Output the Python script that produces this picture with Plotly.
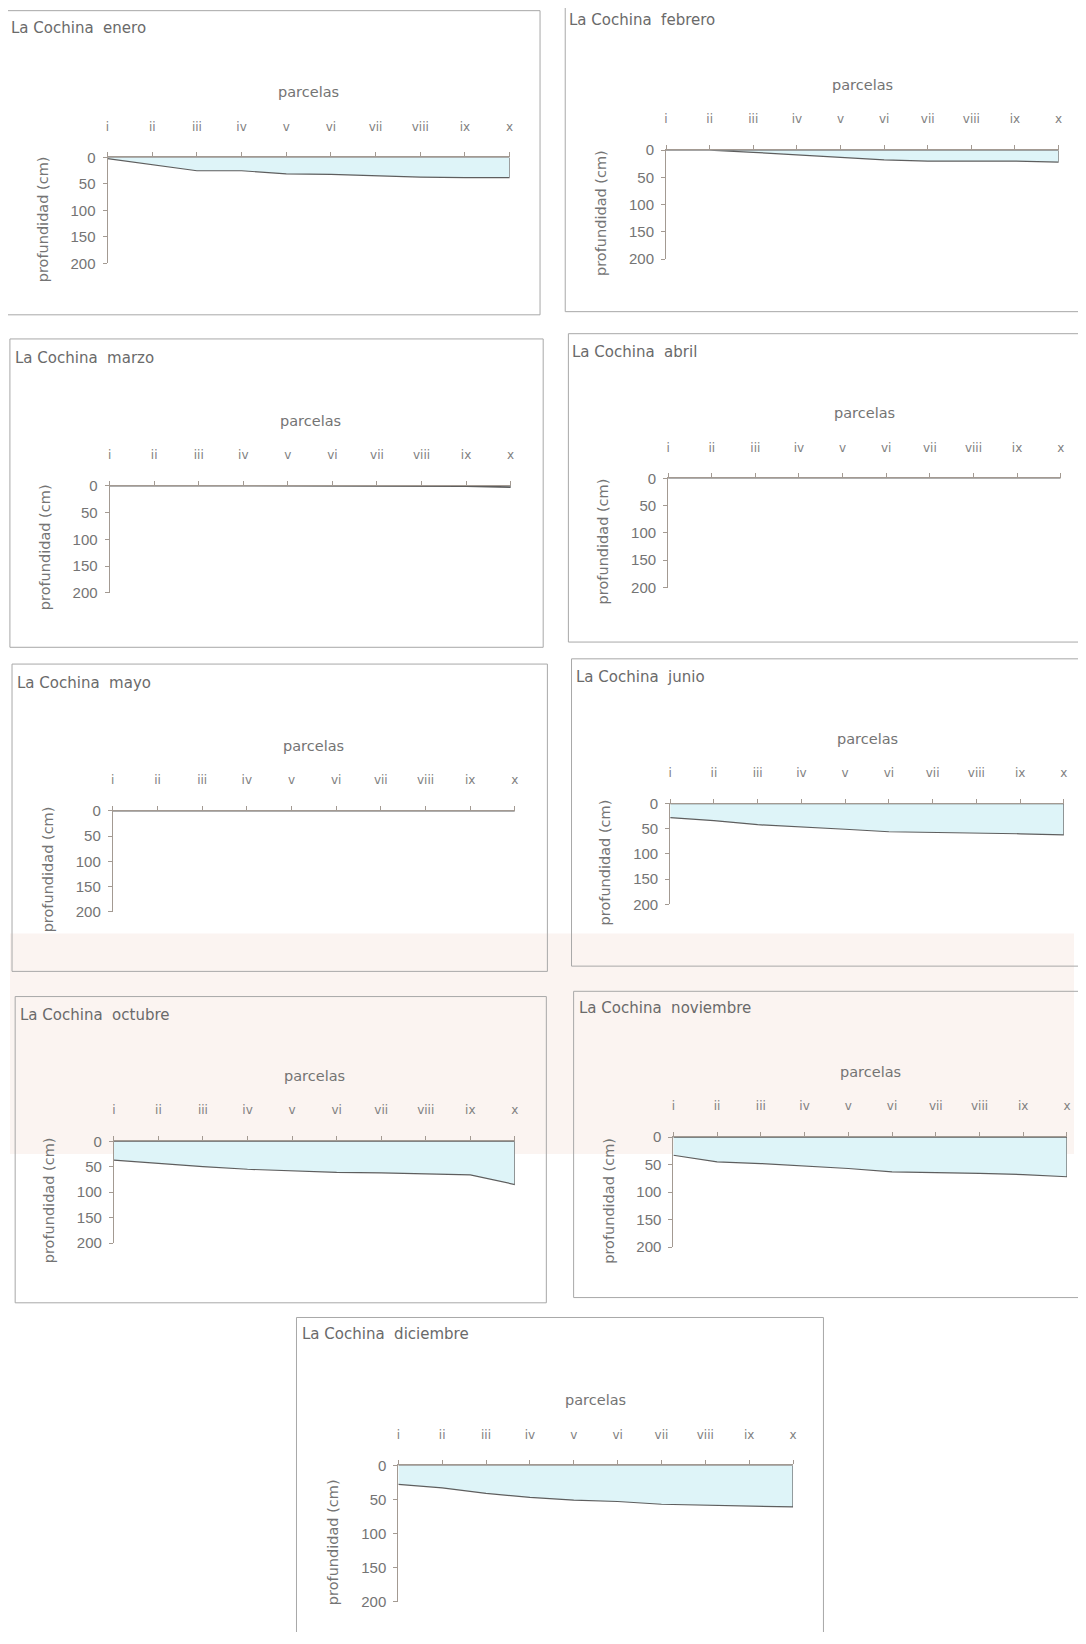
import plotly.graph_objects as go

# ---------------- data ----------------
parcelas = ["i", "ii", "iii", "iv", "v", "vi", "vii", "viii", "ix", "x"]
profundidad_ticks = [0, 50, 100, 150, 200]

meses = ["enero", "febrero", "marzo", "abril", "mayo", "junio",
         "octubre", "noviembre", "diciembre"]

enero = [2, 14, 25, 25, 31, 32, 35, 37, 38, 38]
febrero = [0, 0, 4, 9, 14, 18, 20, 20, 20, 22]
marzo = [0, 0, 0, 0, 0, 0, 0, 0, 1, 3]
abril = [0, 0, 0, 0, 0, 0, 0, 0, 0, 0]
mayo = [0, 0, 0, 0, 0, 0, 0, 0, 0, 0]
junio = [28, 34, 42, 46, 51, 56, 57, 59, 60, 62]
octubre = [37, 44, 50, 55, 58, 61, 62, 64, 66, 85]
noviembre = [33, 45, 48, 52, 57, 63, 64, 66, 68, 72]
diciembre = [28, 33, 41, 47, 51, 53, 57, 58, 59, 61]

series = [enero, febrero, marzo, abril, mayo, junio, octubre, noviembre, diciembre]

# ---------------- layout geometry ----------------
PAGE_W, PAGE_H = 1086, 1644
OFF = 8                      # default body margin of the html page
FW, FH = PAGE_W - 2 * OFF, PAGE_H - 2 * OFF - 4
S = 1086 / 1036.0
panels = [
    dict(box=(8, 10, 516, 300), ax=(104, 487, 150, 251), title=(10, 27)),
    dict(box=(540, 4, 1040, 297), ax=(636, 1010, 143, 247), title=(542, 19)),
    dict(box=(11, 323, 519, 617), ax=(106, 488, 463, 565), title=(14, 341)),
    dict(box=(543, 318, 1040, 612), ax=(638, 1012, 456, 560), title=(545, 335)),
    dict(box=(13, 633, 523, 926), ax=(109, 492, 773, 869), title=(16, 651)),
    dict(box=(546, 628, 1040, 921), ax=(640, 1015, 766, 862), title=(548, 645)),
    dict(box=(16, 950, 522, 1242), ax=(110, 492, 1088, 1185), title=(19, 968)),
    dict(box=(548, 945, 1040, 1237), ax=(643, 1018, 1084, 1189), title=(551, 961)),
    dict(box=(284, 1256, 786, 1600), ax=(381, 757, 1397, 1527), title=(287, 1272)),
]

# empirical correction between page position and the photographed picture
CX_A, CX_B = 0.993, 3.5
CY_A, CY_B = 0.989, 8.5

def px(x):
    x = (x - CX_B) / CX_A
    return (x * S - OFF) / FW

def py(y):
    y = (y - CY_B) / CY_A
    return 1 - (y * S - OFF) / FH

TXT = "#747474"
WORD = "DejaVu Sans, Verdana, sans-serif"
NUM = "Liberation Sans, Arial, sans-serif"
AXC = "#a39a92"

fig = go.Figure()
shapes = []
annotations = []

# faint scan tint band
shapes.append(dict(type="rect", xref="paper", yref="paper", layer="below",
                   x0=0, x1=1, y0=py(1100), y1=py(890),
                   fillcolor="rgba(236,205,190,0.22)", line=dict(width=0)))

idx = list(range(len(parcelas)))
for k, (p, vals, mes) in enumerate(zip(panels, series, meses)):
    n = k + 1
    xa = "x" if n == 1 else f"x{n}"
    ya = "y" if n == 1 else f"y{n}"
    xi, xx, y0, y200 = p["ax"]
    fig.add_trace(go.Scatter(
        x=idx + idx[::-1], y=vals + [0] * len(vals),
        fill="toself", fillcolor="#def4f8", mode="lines",
        line=dict(color="#5e5e5e", width=1.2),
        xaxis=xa, yaxis=ya, showlegend=False, hoverinfo="skip"))
    xkey = "xaxis" if n == 1 else f"xaxis{n}"
    ykey = "yaxis" if n == 1 else f"yaxis{n}"
    fig.layout[xkey] = dict(
        domain=[px(xi), px(xx)], anchor=ya, side="top",
        range=[0, len(parcelas) - 1], tickmode="array", tickvals=idx,
        ticktext=parcelas, ticks="outside", ticklen=4, tickcolor=AXC,
        showline=True, linecolor=AXC, linewidth=1, showgrid=False,
        zeroline=False, tickfont=dict(family=WORD, size=12, color="#808080"),
        ticklabelstandoff=17, fixedrange=True)
    fig.layout[ykey] = dict(
        domain=[py(y200), py(y0)], anchor=xa,
        range=[200, 0], tickmode="array", tickvals=profundidad_ticks,
        ticks="outside", ticklen=4, tickcolor=AXC,
        showline=True, linecolor=AXC, linewidth=1, showgrid=False,
        zeroline=False, tickfont=dict(family=NUM, size=15, color=TXT),
        ticklabelstandoff=4, fixedrange=True)
    bx0, by0, bx1, by1 = p["box"]
    shapes.append(dict(type="rect", xref="paper", yref="paper",
                       x0=px(bx0), x1=px(bx1), y0=py(by1), y1=py(by0),
                       line=dict(color="#a8a8a8", width=1)))
    tx, ty = p["title"]
    annotations.append(dict(text="La Cochina  " + mes, xref="paper", yref="paper",
                            x=px(tx), y=py(ty), xanchor="left", yanchor="middle",
                            showarrow=False,
                            font=dict(family=WORD, size=15, color="#6a6a6a")))
    annotations.append(dict(text="parcelas", xref="paper", yref="paper",
                            x=px((xi + xx) / 2), y=py(y0 - 62), xanchor="center",
                            yanchor="middle", showarrow=False,
                            font=dict(family=WORD, size=14.5, color=TXT)))
    annotations.append(dict(text="profundidad (cm)", xref="paper", yref="paper",
                            x=px(xi - 62), y=py((y0 + y200) / 2 + 8), xanchor="center",
                            yanchor="middle", textangle=-90, showarrow=False,
                            font=dict(family=WORD, size=14.5, color=TXT)))

fig.update_layout(width=FW, height=FH, margin=dict(l=0, r=0, t=0, b=0),
                  paper_bgcolor="white", plot_bgcolor="rgba(0,0,0,0)",
                  shapes=shapes, annotations=annotations, showlegend=False)

fig.write_html("out.html")
